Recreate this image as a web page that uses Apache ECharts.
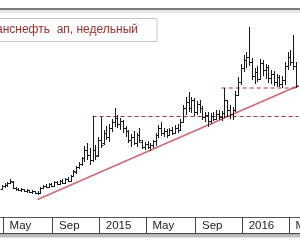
<!DOCTYPE html>
<html>
<head>
<meta charset="utf-8">
<script src="https://cdn.jsdelivr.net/npm/echarts@6/dist/echarts.min.js"></script>
<style>
  html, body { margin: 0; padding: 0; background: #fff; }
  #chart { width: 300px; height: 250px; }
</style>
</head>
<body>
<div id="chart"></div>
<script>
// weekly bars, prices in thousand rub (axis is not shown on the picture)
const firstWeek = '2014-04-25';
const holidayWeeks = ['2016-01-08'];
const weekCount = 109;

const opens = [61, 64, 65, 67, 68, 62, 61, 60, 61, 59, 60, 58, 59, 57, 57, 62, 64, 63, 66, 64,
  68, 66, 69, 67, 71, 69, 74, 78, 83, 86, 92, 100, 95, 90, 100, 95, 110, 107, 117, 113,
  122, 128, 132, 126, 129, 122, 119, 110, 113, 107, 115, 108, 103, 106, 103, 105, 109, 115, 122, 117,
  119, 115, 120, 117, 122, 120, 128, 142, 148, 142, 150, 138, 146, 142, 133, 135, 129, 134, 131, 136,
  133, 137, 150, 140, 136, 140, 155, 168, 182, 190, 193, 188, 174, 178, 171, 187, 180, 183, 172, 176,
  168, 173, 166, 170, 184, 193, 188, 184];
const closes = [64, 65, 67, 69, 62, 61, 60, 61, 59, 60, 58, 59, 57, 57.5, 62, 64, 63, 66, 64, 68,
  66, 69, 67, 71, 69, 74, 79, 83, 86, 92, 100, 95, 90, 100, 94, 110, 105, 117, 113, 122,
  128, 132, 126, 129, 122, 119, 110, 113, 107, 115, 110, 103, 106, 103, 105, 109, 115, 122, 117, 119,
  115, 120, 117, 122, 120, 128, 142, 148, 142, 150, 138, 146, 142, 133, 135, 129, 134, 131, 136, 133,
  137, 150, 140, 136, 140, 155, 168, 182, 190, 193, 188, 174, 178, 171, 187, 180, 183, 172, 176, 168,
  173, 166, 170, 184, 193, 188, 184, 164];
const lows = [60, 62, 63, 66, 61, 59, 59, 58, 58, 57, 57, 56, 56, 55, 56, 61, 62, 62, 63, 63,
  65, 65, 66, 66, 68, 68, 73, 76, 81, 84, 88, 90, 85, 88, 90, 93, 102, 105, 110, 108,
  118, 123, 122, 120, 117, 113, 107, 103, 105, 103, 107, 101, 100, 101, 99, 102, 104, 112, 114, 113,
  112, 114, 115, 116, 117, 119, 127, 135, 138, 137, 134, 135, 137, 130, 128, 123, 126, 129, 130, 130,
  129, 132, 133, 131, 130, 138, 154, 165, 178, 182, 184, 170, 166, 168, 170, 174, 171, 167, 166, 164,
  163, 163, 162, 165, 180, 184, 180, 162];
const highs = [65, 67, 68, 71, 69, 63, 62, 62, 61, 61, 60, 60, 59, 59, 63, 65, 66, 67, 67, 69,
  69, 70, 71, 72, 73, 75, 80, 84, 88, 93, 104, 107, 102, 134, 105, 113, 133, 120, 124, 126,
  131, 142, 135, 132, 130, 124, 120, 116, 119, 117, 122, 110, 108, 109, 107, 110, 117, 125, 128, 122,
  121, 122, 123, 125, 126, 131, 145, 153, 158, 153, 152, 149, 150, 144, 138, 138, 137, 138, 140, 140,
  139, 162, 150, 145, 143, 159, 173, 186, 195, 198, 223, 192, 182, 184, 191, 190, 186, 185, 180, 179,
  176, 175, 174, 188, 198, 200, 215, 188];

// drawn levels: [start week index, value] .. [end week index, value]
const trendLine = [[13, 50.4], [108, 164.4]];
const lowerLevel = [[33, 133.5], [108, 133.5]];
const upperLevel = [[80, 162], [108, 162]];

const monthLabels = {5: 'May', 9: 'Sep'};
const titleText = 'Транснефть  ап, недельный';

// calendar of weekly bars (fridays), market holiday week left out
const weeks = [];
let d = new Date(firstWeek + 'T00:00:00Z');
while (weeks.length < weekCount) {
  const s = d.toISOString().slice(0, 10);
  if (!holidayWeeks.includes(s)) weeks.push(s);
  d = new Date(d.getTime() + 7 * 86400000);
}

const ohlc = opens.map((o, i) => [i, o, closes[i], lows[i], highs[i]]);
const toPts = arr => arr.map(p => [weeks[p[0]], p[1]]);

function monthStart(index, value) {
  const m = +value.slice(5, 7);
  if (m !== 1 && !monthLabels[m]) return false;
  if (index === 0) return false;
  return +weeks[index - 1].slice(5, 7) !== m;
}

const chart = echarts.init(document.getElementById('chart'), null, {renderer: 'canvas'});

chart.setOption({
  animation: false,
  backgroundColor: '#fff',
  grid: {left: 0.5, right: 0, top: 10, bottom: 33, containLabel: false, outerBoundsMode: 'none'},
  xAxis: {
    type: 'category',
    data: weeks,
    boundaryGap: true,
    axisLine: {onZero: false, lineStyle: {color: '#555', width: 1}},
    axisTick: {show: true, interval: monthStart, length: 16, lineStyle: {color: '#444'}},
    axisLabel: {
      interval: monthStart,
      margin: 3,
      align: 'left',
      padding: [0, 0, 0, 5],
      color: '#222',
      fontSize: 11.5,
      fontFamily: 'Liberation Sans',
      hideOverlap: false,
      formatter: v => {
        const m = +v.slice(5, 7);
        return m === 1 ? v.slice(0, 4) : monthLabels[m];
      }
    },
    splitLine: {show: false}
  },
  yAxis: {
    type: 'value',
    min: 33,
    max: 240,
    show: false,
    splitLine: {show: false}
  },
  series: [
    {
      type: 'line',
      data: toPts(trendLine),
      symbol: 'none',
      lineStyle: {color: '#d06a78', width: 1.6},
      z: 1
    },
    {
      type: 'line',
      data: toPts(lowerLevel),
      symbol: 'none',
      lineStyle: {color: '#9c3a3a', width: 1, type: [4, 3]},
      z: 1
    },
    {
      type: 'line',
      data: toPts(upperLevel),
      symbol: 'none',
      lineStyle: {color: '#9c3a3a', width: 1, type: [4, 3]},
      z: 1
    },
    {
      type: 'custom',
      data: ohlc,
      encode: {x: 0, y: [1, 2, 3, 4]},
      z: 3,
      renderItem: (params, api) => {
        const i = api.value(0);
        const x = Math.round(api.coord([i, 0])[0]) + 0.5;
        const yo = Math.round(api.coord([i, api.value(1)])[1]) + 0.5;
        const yc = Math.round(api.coord([i, api.value(2)])[1]) + 0.5;
        const yl = api.coord([i, api.value(3)])[1];
        const yh = api.coord([i, api.value(4)])[1];
        const st = {stroke: '#1a1a1a', lineWidth: 1};
        return {
          type: 'group',
          children: [
            {type: 'line', shape: {x1: x, y1: yh, x2: x, y2: yl}, style: st},
            {type: 'line', shape: {x1: x - 2, y1: yo, x2: x, y2: yo}, style: st},
            {type: 'line', shape: {x1: x, y1: yc, x2: x + 2, y2: yc}, style: st}
          ]
        };
      }
    }
  ],
  graphic: [
    {type: 'rect', shape: {x: 0, y: 8, width: 300, height: 2}, style: {fill: '#7a7a7a'}, silent: true},
    {type: 'rect', shape: {x: 0, y: 10, width: 300, height: 3}, style: {fill: '#e4e4e4'}, silent: true},
    {type: 'rect', shape: {x: -2, y: 18.5, width: 159, height: 23}, style: {fill: '#fff', stroke: '#c8c8c8', lineWidth: 1}, silent: true, z: 10},
    {type: 'text', x: 138, y: 30, z: 11, silent: true,
      style: {text: titleText, align: 'right', verticalAlign: 'middle', fill: '#9c3030', fontSize: 12, fontFamily: 'Liberation Sans'}},
    {type: 'rect', shape: {x: 0, y: 233, width: 300, height: 1.5}, style: {fill: '#4a4a4a'}, silent: true},
    {type: 'rect', shape: {x: 0, y: 234.5, width: 300, height: 3}, style: {fill: '#bdbdbd'}, silent: true}
  ]
});
</script>
</body>
</html>
